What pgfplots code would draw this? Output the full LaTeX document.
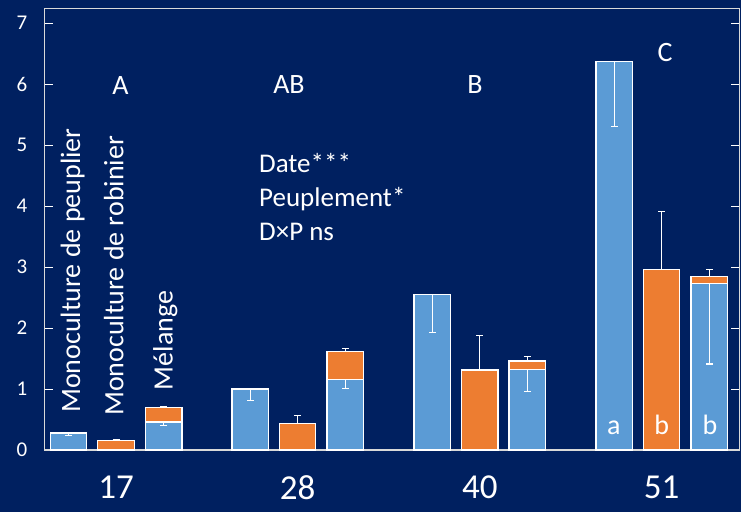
\documentclass[border=0pt]{standalone}
\usepackage{fontspec}
\setmainfont{Carlito}
\usepackage{pgfplots}
\pgfplotsset{compat=1.18}
\definecolor{navy}{HTML}{002060}
\definecolor{barblue}{HTML}{5B9BD5}
\definecolor{barorange}{HTML}{ED7D31}
\definecolor{framegray}{HTML}{D9D9D9}

\begin{document}
\begin{tikzpicture}
\fill[navy] (0,0) rectangle (741pt,512pt);
\useasboundingbox (0,0) rectangle (741pt,512pt);
\begin{axis}[
  at={(44.7pt,62pt)}, anchor=south west,
  width=694.6pt, height=441.3pt, scale only axis,
  xmin=44.7, xmax=739.3, ymin=0, ymax=7.235,
  clip=false,
  axis line style={framegray, line width=1.2pt},
  ytick={0,1,...,7},
  tick align=inside,
  major tick length=8.5pt,
  ytick style={white, line width=1pt},
  xtick={116,297.5,479.8,661.5},
  xticklabels={17,28,40,51},
  xtick style={draw=none},
  /pgf/number format/assume math mode=true,
  yticklabel style={white, font=\fontsize{21}{24}\selectfont, anchor=east, xshift=-14pt},
  xticklabel style={white, font=\fontsize{35}{40}\selectfont, yshift=-14pt},
  ybar, bar shift=0pt, bar width=36.5,
  every node near coord/.style={},
]
% orange: robinier and total of melange
\addplot[fill=barorange, draw=white, line width=1.2pt,
  error bars/.cd, y dir=plus, y explicit,
  error bar style={white, line width=1.1pt}, error mark options={white, line width=1.1pt, mark size=3.5pt, rotate=90}]
coordinates {
  (116,0.15) +- (0,0.025)
  (163.7,0.70) +- (0,0.02)
  (297.5,0.43) +- (0,0.13)
  (345.3,1.62) +- (0,0.05)
  (479.8,1.31) +- (0,0.56)
  (527.3,1.46) +- (0,0.08)
  (661.5,2.96) +- (0,0.95)
  (709.3,2.84) +- (0,0.12)
};
% blue: peuplier and blue part of melange
\addplot[fill=barblue, draw=white, line width=1.2pt,
  error bars/.cd, y dir=minus, y explicit,
  error bar style={white, line width=1.1pt}, error mark options={white, line width=1.1pt, mark size=3.5pt, rotate=90}]
coordinates {
  (68.5,0.28) +- (0,0.04)
  (163.7,0.46) +- (0,0.06)
  (250.3,1.00) +- (0,0.19)
  (345.3,1.16) +- (0,0.155)
  (432.3,2.55) +- (0,0.62)
  (527.3,1.32) +- (0,0.36)
  (614.3,6.37) +- (0,1.07)
  (709.3,2.73) +- (0,1.32)
};
% letters
\begin{scope}[every node/.style={white, font=\fontsize{28}{34}\selectfont, inner sep=0pt}]
\node at (axis cs:120.5,5.97) {A};
\node at (axis cs:289,5.99) {AB};
\node at (axis cs:475,5.99) {B};
\node at (axis cs:665,6.51) {C};
\node[anchor=base] at (axis cs:613.7,0.26) {a};
\node[anchor=base] at (axis cs:661.7,0.26) {b};
\node[anchor=base] at (axis cs:710,0.26) {b};
\node[rotate=90, anchor=base west] at (axis cs:80,0.607) {Monoculture de peuplier};
\node[rotate=90, anchor=base west] at (axis cs:123.3,0.557) {Monoculture de robinier};
\node[rotate=90, anchor=base west] at (axis cs:172.7,0.98) {Mélange};
\end{scope}
\begin{scope}[every node/.style={white, font=\fontsize{27}{33}\selectfont, inner sep=0pt, anchor=base west}]
\node at (axis cs:259,4.546) {Date***};
\node at (axis cs:259,3.99) {Peuplement*};
\node at (axis cs:259,3.43) {D×P ns};
\end{scope}
\end{axis}
\end{tikzpicture}
\end{document}
